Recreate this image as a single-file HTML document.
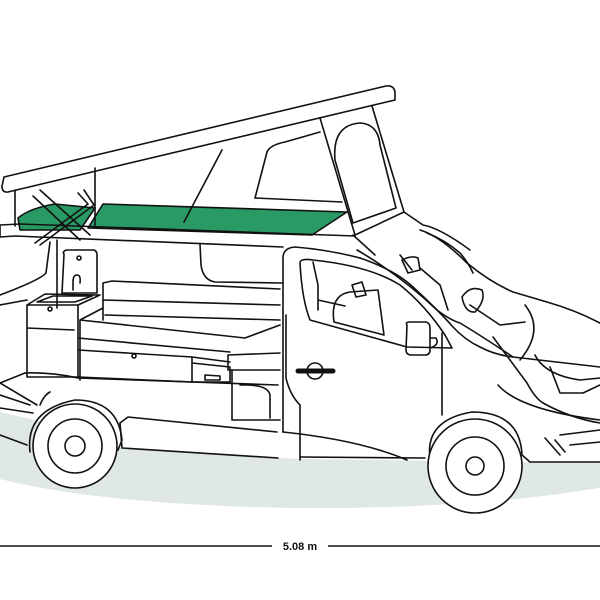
<!DOCTYPE html>
<html><head><style>html,body{margin:0;padding:0;background:#fff;width:600px;height:600px;overflow:hidden}</style></head>
<body>
<svg width="600" height="600" viewBox="0 0 600 600" xmlns="http://www.w3.org/2000/svg">
<ellipse cx="320" cy="445" rx="380" ry="63" fill="#e0e8e6"/>
<path d="M0,225 L283,247 L360,258 L420,230 L470,252 L547,302 L600,323 L600,462 L530,462 L300,459 L122,448 L35,420 L0,412 Z" fill="#fff"/>
<g fill="none" stroke="#111" stroke-width="1.6" stroke-linejoin="round" stroke-linecap="round">
<polygon points="103,204 347,212 312,235 88,228" fill="#2a9a64"/>
<path d="M18,218 Q30,208 55,204 L95,208 L80,230 L20,230 Z" fill="#2a9a64"/>
<path d="M4,177 L386,86 Q394,85 395,92 L395,100 L8,192 Q2,193 2,186 Z" fill="#fff"/>
<path d="M15,190 L15,226 M95,168 L95,228 M222,150 L184,222"/>
<path d="M33,196 L80,240 M40,190 L90,235 M84,190 L94,205 L40,245 M78,193 L88,204 L35,243"/>
<path d="M255,198 L267,152 Q270,145 285,142 L320,132 M255,198 L342,202"/>
<path d="M320,118 L355,235 M372,106 L404,212 M355,235 L404,212 L423,225 Q440,228 470,250 M353,235 L375,255"/>
<path d="M353,223 L335,160 Q332,125 360,123 Q378,124 380,145 L396,208 Z"/>
<path d="M0,225 L20,224 L355,236 M0,237 L15,236 L283,247 M0,225 L0,237"/>
<path d="M50,242 L46,273 Q40,280 0,295 M57,240 L57,308 M0,305 L27,300"/>
<path d="M0,383 L25,373 M0,383 L37,405 M0,408 L33,413 M0,395 L30,405 M0,435 L27,445"/>
<path d="M200,244 L201,265 Q203,280 215,282 L282,283"/>
<path d="M64,254 Q62,252 66,250 L94,250 Q97,251 97,255 L97,293 L62,293 Z"/>
<circle cx="79" cy="258" r="2"/>
<path d="M73,290 L73,282 Q73,275 77,275 Q81,275 80,283"/>
<path d="M27,305 L78,305 L100,295 L45,294 Z M37,302 L75,302 L92,296 L53,296 Z"/>
<path d="M27,305 L27,377 L78,377 L78,305 M27,328 L74,330"/>
<circle cx="50" cy="309" r="2"/>
<path d="M103,283 L103,320 M103,283 L112,281 L280,289 M103,300 L280,305 M105,315 L280,320"/>
<path d="M80,320 L103,308 M80,320 L80,380 M80,320 L245,338 L280,325 M78,338 L230,352 M78,350 L192,357 L192,382 L78,377"/>
<circle cx="134" cy="356" r="2"/>
<path d="M192,357 L230,362 M192,363 L230,367 L230,382 L192,382 M205,375 L220,376 L220,380 L205,380 Z"/>
<path d="M228,355 L280,353 M228,355 L228,370 L280,370 M232,370 L232,420 L280,420 M240,385 Q268,384 270,395 L270,418"/>
<path d="M25,373 Q50,372 78,378 L278,385 M40,405 Q44,395 50,392"/>
<path d="M120,423 L128,417 L277,432 M122,448 L278,458 M120,423 L122,448"/>
<path d="M283,432 L283,258 Q283,248 295,247 Q330,250 360,258"/>
<path d="M286,315 L286,378 Q290,395 300,405 L300,460"/>
<path d="M360,258 Q395,270 413,287 Q440,312 453,327 Q465,340 480,347 Q495,355 513,357 L600,367"/>
<path d="M357,250 Q400,275 437,310 Q450,320 460,323 Q480,335 513,357"/>
<path d="M420,230 Q440,236 467,263 Q490,282 513,292 Q530,297 547,302 Q575,310 600,323"/>
<path d="M427,233 Q445,240 460,253 Q468,262 473,273"/>
<path d="M300,263 Q300,258 313,260 Q370,266 400,285 Q425,305 445,335 L452,348 L407,347 L310,320 Q302,300 300,263 Z"/>
<path d="M313,262 L318,285 L318,310 M318,300 L345,306"/>
<path d="M334,322 Q330,295 350,292 L378,290 L384,335 Z M352,285 L356,297 L366,295 L362,282 Z"/>
<path d="M400,255 L412,270 M402,260 Q412,255 418,258 L420,270 L408,273 Z M420,268 L440,285 L448,310"/>
<path d="M462,297 Q470,285 482,290 Q486,300 475,312 Q465,313 462,297 Z M470,305 L500,325 L525,322"/>
<path d="M525,305 Q545,330 520,360"/>
<path d="M442,333 L442,415 M493,337 Q510,360 527,383 Q535,398 543,403 Q570,418 600,423"/>
<path d="M550,367 L560,393 L583,393 L600,385 M535,355 Q545,375 580,380 L600,378"/>
<path d="M498,385 Q520,410 600,420"/>
<path d="M283,432 Q360,440 407,460"/>
<path d="M407,325 Q405,322 410,322 L426,322 Q430,323 430,328 L430,350 Q430,355 425,355 L410,355 Q406,354 406,350 Z M430,338 L436,338 Q440,345 430,348"/>
<circle cx="315" cy="371" r="8"/>
<path d="M298,371 L333,371" stroke-width="5"/>
<path d="M300,457 L425,458 M430,458 Q425,420 472,412 Q520,412 522,455 L530,462 L600,462"/>
<path d="M555,440 L565,452 M545,438 L560,455 M560,435 L600,430 M570,445 L600,442"/>
<path d="M30,452 Q25,410 75,400 Q118,400 122,440 L118,450"/>
<circle cx="75" cy="446" r="42" fill="#fff"/>
<circle cx="75" cy="446" r="27"/>
<circle cx="75" cy="446" r="10"/>
<circle cx="475" cy="466" r="47" fill="#fff"/>
<circle cx="475" cy="466" r="29"/>
<circle cx="475" cy="466" r="9"/>
</g>
<line x1="0" y1="546" x2="272" y2="546" stroke="#111" stroke-width="1.6"/>
<line x1="328" y1="546" x2="600" y2="546" stroke="#111" stroke-width="1.6"/>
<text x="300" y="550" text-anchor="middle" font-family="Liberation Sans, sans-serif" font-size="11" font-weight="bold" fill="#111">5.08 m</text>
</svg>
</body></html>
